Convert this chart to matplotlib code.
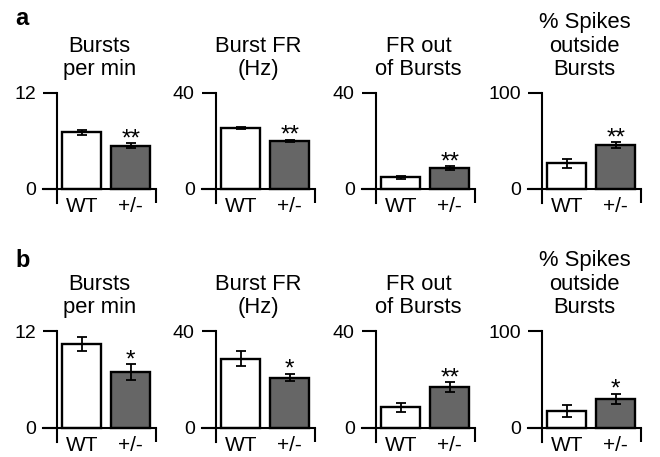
import matplotlib
matplotlib.use("Agg")
import matplotlib.pyplot as plt
from matplotlib.ticker import FixedLocator

plt.rcParams['font.family'] = ['Liberation Sans', 'DejaVu Sans']

# ---- data ----
groups = ["WT", "+/-"]
titles = ["Bursts\nper min", "Burst FR\n(Hz)", "FR out\nof Bursts", "% Spikes\noutside\nBursts"]
ymax = [12, 40, 40, 100]
panel_labels = ["a", "b"]

a_mean = [[7.1, 5.4], [25.5, 20.0], [4.8, 8.8], [26.6, 45.5]]
a_err = [[0.3, 0.3], [0.5, 0.5], [0.6, 0.8], [4.3, 3.0]]
a_sig = ["**", "**", "**", "**"]

b_mean = [[10.4, 6.9], [28.5, 20.7], [8.3, 16.8], [17.2, 30.0]]
b_err = [[0.83, 1.0], [3.2, 1.6], [2.0, 1.9], [6.0, 5.2]]
b_sig = ["*", "*", "**", "*"]

bar_colors = ["white", "#666666"]

# ---- layout (pixels) ----
W, H = 660, 457
fig = plt.figure(figsize=(W / 100, H / 100), dpi=100)

lefts = [43, 202, 362, 528]
ax_w = 113
rows = [(93, 203), (331, 442)]  # top, bottom pixel of axes
zero_px = [189, 427.5]

xlo, xhi = -0.8, 1.52
spine_x = -0.52

rows_data = [(a_mean, a_err, a_sig), (b_mean, b_err, b_sig)]

for r, (top, bot) in enumerate(rows):
    means, errs, sigs = rows_data[r]
    for i in range(4):
        ax = fig.add_axes([lefts[i] / W, 1 - bot / H, ax_w / W, (bot - top) / H])
        frac = (bot - zero_px[r]) / (zero_px[r] - top)
        ax.set_ylim(-ymax[i] * frac, ymax[i])
        ax.set_xlim(xlo, xhi)
        xs = [0, 1]
        ax.bar(xs, means[i], width=0.8, color=bar_colors, edgecolor='black',
               linewidth=1.7, zorder=2)
        ax.errorbar(xs, means[i], yerr=errs[i], fmt='none', ecolor='black',
                    elinewidth=1.3, capsize=3.5, capthick=1.3, zorder=3)
        ax.annotate(sigs[i], xy=(1, means[i][1] + errs[i][1]), xytext=(0, -1.5),
                    textcoords='offset points', ha='center', va='baseline',
                    fontsize=17.5)
        for s in ['top', 'right']:
            ax.spines[s].set_visible(False)
        ax.spines['left'].set_position(('data', spine_x))
        ax.spines['bottom'].set_position(('data', 0))
        ax.spines['left'].set_linewidth(1.5)
        ax.spines['bottom'].set_linewidth(1.5)
        ax.set_yticks([0, ymax[i]])
        ax.set_yticklabels(['0', str(ymax[i])])
        ax.tick_params(axis='y', direction='out', length=10, width=1.5,
                       labelsize=14, pad=5)
        ax.set_xticks(xs)
        ax.set_xticklabels(groups)
        ax.tick_params(axis='x', which='major', length=0, labelsize=15, pad=6)
        ax.xaxis.set_minor_locator(FixedLocator([xhi]))
        ax.tick_params(axis='x', which='minor', direction='out', length=10, width=1.5)
        ax.set_title(titles[i], fontsize=15.8, pad=13, linespacing=1.15)
        ax.patch.set_visible(False)
    fig.text(15 / W, 1 - (25 if r == 0 else 267) / H, panel_labels[r],
             fontsize=17, fontweight='bold', ha='left', va='baseline')

fig.savefig("out.png", dpi=100)
